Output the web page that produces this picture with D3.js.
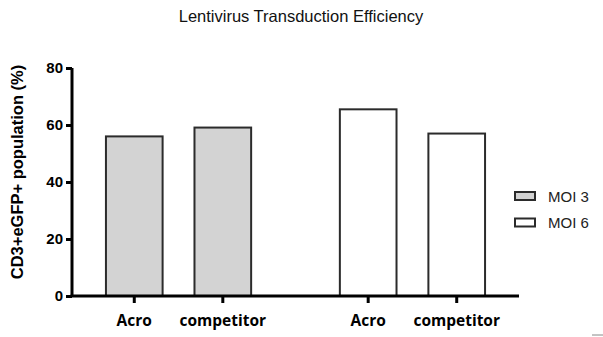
<!DOCTYPE html>
<html lang="en">
<head>
    <meta charset="UTF-8">
    <title>Lentivirus Transduction Efficiency</title>
    <script src="https://d3js.org/d3.v7.min.js"></script>
    <style>
        body { margin: 0; background: #fff; }
        .tick text { font-family: "Liberation Sans", Arial, sans-serif; font-weight: bold; font-size: 15px; fill: #000; }
    </style>
</head>
<body>
    <script>
        // data
        var groups = ["MOI 3", "MOI 6"];
        var categories = ["Acro", "competitor"];
        var moi3 = [56, 59.1];
        var moi6 = [65.5, 57];
        var yTicks = [0, 20, 40, 60, 80];
        var fills = ["#d3d3d3", "#ffffff"];

        var width = 603, height = 337;

        var svg = d3.select("body").append("svg")
            .attr("width", width)
            .attr("height", height);

        var data = [];
        groups.forEach(function(g, gi) {
            var vals = gi === 0 ? moi3 : moi6;
            categories.forEach(function(c, ci) {
                data.push({group: g, cat: c, value: vals[ci], fill: fills[gi]});
            });
        });

        var x0 = d3.scaleBand().domain(groups).range([72, 519])
            .paddingInner(0.243).paddingOuter(0.077);
        var x1 = d3.scaleBand().domain(categories).range([0, x0.bandwidth()])
            .paddingInner(0.36).paddingOuter(0.18);
        var y = d3.scaleLinear().domain([0, 80]).range([296, 68]);

        // bars
        svg.selectAll(".bar")
            .data(data)
            .enter().append("rect")
            .attr("class", "bar")
            .attr("x", function(d) { return x0(d.group) + x1(d.cat); })
            .attr("y", function(d) { return y(d.value); })
            .attr("width", x1.bandwidth())
            .attr("height", function(d) { return y(0) - y(d.value); })
            .attr("fill", function(d) { return d.fill; })
            .attr("stroke", "#2b2b2b")
            .attr("stroke-width", 2);

        // y axis
        var yAxis = svg.append("g")
            .attr("transform", "translate(72,0)")
            .call(d3.axisLeft(y).tickValues(yTicks).tickSize(6).tickPadding(3));
        yAxis.select(".domain").attr("d", "M0," + y(80) + "V" + y(0)).attr("stroke-width", 3);
        yAxis.selectAll(".tick line").attr("stroke-width", 3);

        // x axis
        var xAxis = svg.append("g").attr("transform", "translate(0," + y(0) + ")");
        xAxis.append("line")
            .attr("x1", 70.5).attr("x2", 519)
            .attr("stroke", "#000").attr("stroke-width", 3);
        xAxis.selectAll(".xt")
            .data(data)
            .enter().append("line")
            .attr("x1", function(d) { return x0(d.group) + x1(d.cat) + x1.bandwidth() / 2; })
            .attr("x2", function(d) { return x0(d.group) + x1(d.cat) + x1.bandwidth() / 2; })
            .attr("y1", 0).attr("y2", 7)
            .attr("stroke", "#000").attr("stroke-width", 3);
        xAxis.selectAll(".xl")
            .data(data)
            .enter().append("text")
            .attr("x", function(d) { return x0(d.group) + x1(d.cat) + x1.bandwidth() / 2; })
            .attr("y", 30)
            .attr("text-anchor", "middle")
            .style("font-family", "'Open Sans', sans-serif")
            .style("font-weight", "bold")
            .style("font-size", "15.5px")
            .text(function(d) { return d.cat; });

        // title
        svg.append("text")
            .attr("x", 301).attr("y", 22)
            .attr("text-anchor", "middle")
            .style("font-family", "'Liberation Sans', Arial, sans-serif")
            .style("font-size", "16.5px")
            .style("fill", "#111")
            .text("Lentivirus Transduction Efficiency");

        // y label
        svg.append("text")
            .attr("transform", "translate(23,172) rotate(-90)")
            .attr("text-anchor", "middle")
            .style("font-family", "'Liberation Sans', Arial, sans-serif")
            .style("font-weight", "bold")
            .style("font-size", "16.5px")
            .text("CD3+eGFP+ population (%)");

        // legend
        var legend = svg.selectAll(".legend")
            .data(groups)
            .enter().append("g")
            .attr("transform", function(d, i) { return "translate(515," + (192 + i * 26.5) + ")"; });
        legend.append("rect")
            .attr("width", 20).attr("height", 8)
            .attr("fill", function(d, i) { return fills[i]; })
            .attr("stroke", "#2b2b2b").attr("stroke-width", 2);
        legend.append("text")
            .attr("x", 33).attr("y", 9.5)
            .style("font-family", "'Liberation Sans', Arial, sans-serif")
            .style("font-size", "15px")
            .style("fill", "#222")
            .text(function(d) { return d; });

        // small mark at bottom-right corner
        svg.append("line")
            .attr("x1", 592).attr("x2", 603).attr("y1", 335).attr("y2", 335)
            .attr("stroke", "#888").attr("stroke-width", 1);
    </script>
</body>
</html>
